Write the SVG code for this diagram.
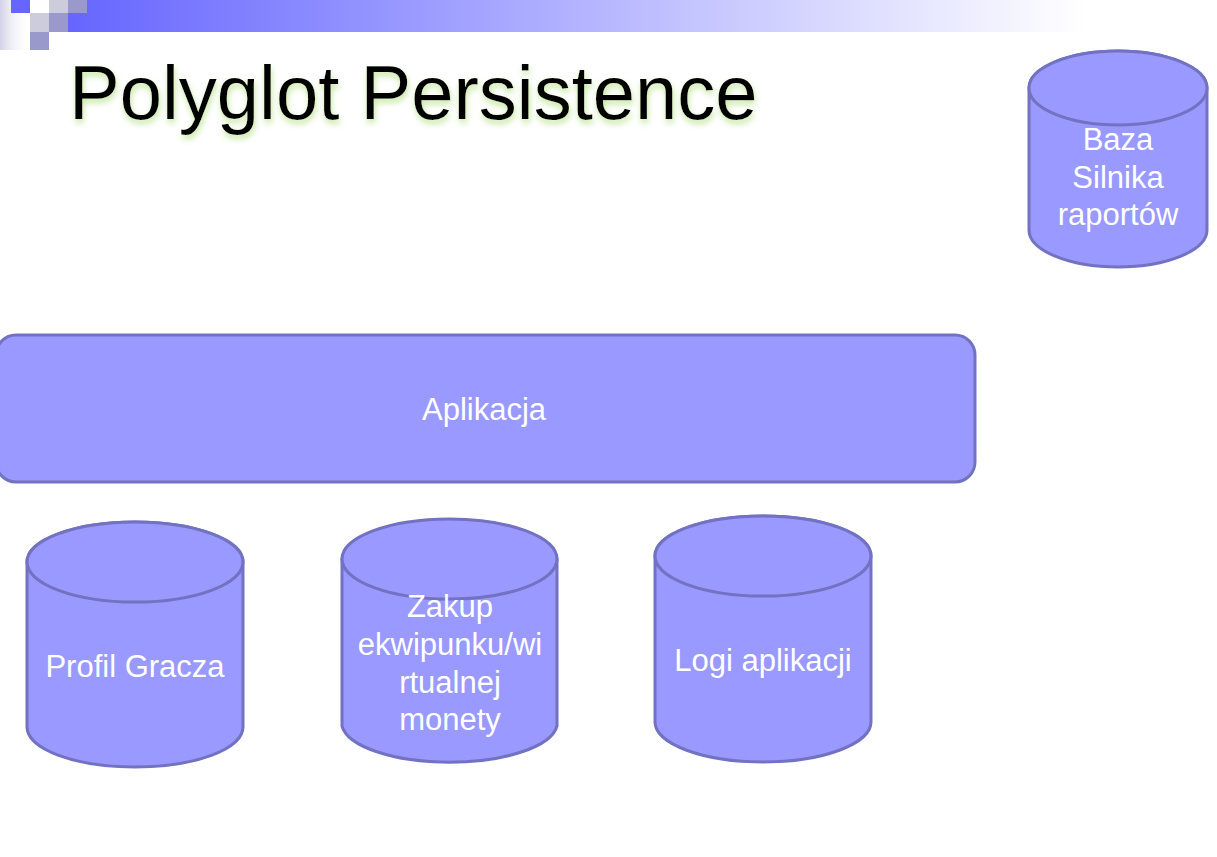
<svg xmlns="http://www.w3.org/2000/svg" width="1217" height="857" viewBox="0 0 1217 857">
<defs>
<linearGradient id="bar" gradientUnits="userSpaceOnUse" x1="68" y1="0" x2="1085" y2="0">
<stop offset="0" stop-color="#6666ff"/>
<stop offset="1" stop-color="#ffffff"/>
</linearGradient>
<linearGradient id="side" x1="0" y1="0" x2="1" y2="0">
<stop offset="0" stop-color="#d2d2e8"/>
<stop offset="1" stop-color="#ffffff" stop-opacity="0"/>
</linearGradient>
<filter id="glow" x="-5%" y="-20%" width="110%" height="150%">
<feGaussianBlur in="SourceAlpha" stdDeviation="3" result="b"/>
<feOffset in="b" dx="1" dy="4" result="o"/>
<feFlood flood-color="#b8e08a" flood-opacity="0.8"/>
<feComposite in2="o" operator="in" result="g"/>
<feMerge><feMergeNode in="g"/><feMergeNode in="SourceGraphic"/></feMerge>
</filter>
</defs>
<style>
.shape{fill:#9999ff;stroke:#7272c2;stroke-width:3}
.lbl{font-family:"Liberation Sans",Arial,sans-serif;font-size:31px;fill:#ffffff;text-anchor:middle}
.title{font-family:"Liberation Sans",Arial,sans-serif;font-size:76px;fill:#000000}
</style>
<rect width="1217" height="857" fill="#ffffff"/>
<g id="header">
<rect x="0" y="0" width="30" height="50" fill="url(#side)"/>
<rect x="68" y="0" width="1020" height="32" fill="url(#bar)"/>
<rect x="11" y="0" width="19" height="13" fill="#6666ff"/>
<rect x="30" y="0" width="19" height="13" fill="#ffffff"/>
<rect x="49" y="0" width="19" height="13" fill="#ccccdd"/>
<rect x="68" y="0" width="19" height="13" fill="#9999cc"/>
<rect x="30" y="13" width="19" height="19" fill="#ccccdd"/>
<rect x="49" y="13" width="19" height="19" fill="#9999cc"/>
<rect x="30" y="32" width="19" height="18" fill="#9999cc"/>
</g>
<text class="title" x="69" y="119" filter="url(#glow)">Polyglot Persistence</text>
<g id="connectors"></g>
<g id="baza">
<path class="shape" d="M1029,88 L1029,230 A89,37 0 0 0 1207,230 L1207,88 A89,37 0 0 0 1029,88 Z"/>
<ellipse class="shape" cx="1118" cy="88" rx="89" ry="37"/>
<text class="lbl" x="1118" y="150">Baza</text>
<text class="lbl" x="1118" y="188">Silnika</text>
<text class="lbl" x="1118" y="225">raportów</text>
</g>
<g id="aplikacja">
<rect class="shape" x="-4" y="335" width="979" height="147" rx="20"/>
<text class="lbl" x="484" y="420">Aplikacja</text>
</g>
<g id="profil">
<path class="shape" d="M27,562 L27,727 A108,40 0 0 0 243,727 L243,562 A108,40 0 0 0 27,562 Z"/>
<ellipse class="shape" cx="135" cy="562" rx="108" ry="40"/>
<text class="lbl" x="135" y="677">Profil Gracza</text>
</g>
<g id="zakup">
<path class="shape" d="M342,559 L342,726 A108,40 0 0 0 557,726 L557,559 A108,40 0 0 0 342,559 Z"/>
<ellipse class="shape" cx="449.5" cy="559" rx="107.5" ry="40"/>
<text class="lbl" x="450" y="617">Zakup</text>
<text class="lbl" x="450" y="655">ekwipunku/wi</text>
<text class="lbl" x="450" y="693">rtualnej</text>
<text class="lbl" x="450" y="730">monety</text>
</g>
<g id="logi">
<path class="shape" d="M655,556 L655,722 A108,40 0 0 0 871,722 L871,556 A108,40 0 0 0 655,556 Z"/>
<ellipse class="shape" cx="763" cy="556" rx="108" ry="40"/>
<text class="lbl" x="763" y="671">Logi aplikacji</text>
</g>
</svg>
